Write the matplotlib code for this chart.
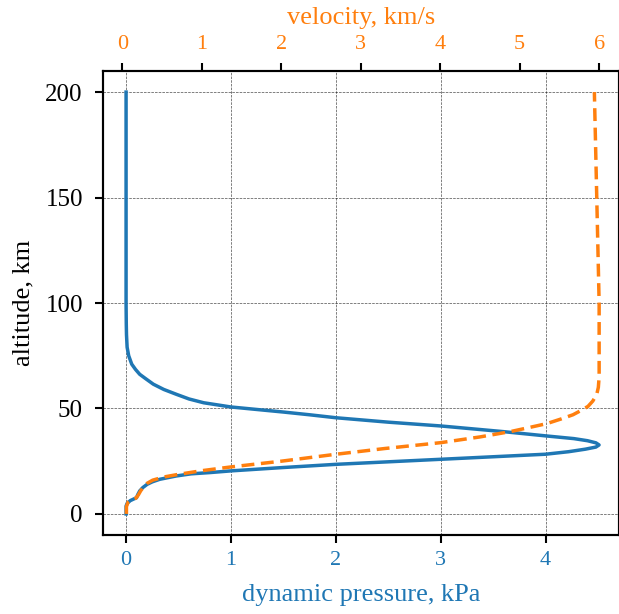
import matplotlib
matplotlib.use("Agg")
import matplotlib.pyplot as plt

plt.rcParams['font.family'] = ['Liberation Serif', 'DejaVu Serif']

# dynamic pressure (kPa) vs altitude (km)
alt_q = [0, 3.7, 5, 6.3, 7.7, 9, 10.9, 12.5, 14, 15.2, 16.4, 17.2, 18, 19,
         19.6, 20.4, 22, 23.5, 25.9, 28.3, 29.5, 30.7, 31.7, 32.7, 33.7, 34.7,
         35.7, 37, 39, 41.7, 43.5, 45.6, 47, 48.3, 49.5, 50.7, 52.7, 54.5,
         56.7, 59, 61.5, 64, 66.2, 68.5, 71, 75, 79, 85, 90, 100, 150, 200]
q_kpa = [0.0, 0.0, 0.01, 0.04, 0.1, 0.11, 0.13, 0.16, 0.2, 0.25, 0.32, 0.4,
         0.48, 0.62, 0.8, 1.0, 1.5, 2.0, 3.0, 4.0, 4.22, 4.38, 4.48, 4.51,
         4.48, 4.4, 4.27, 4.0, 3.6, 3.0, 2.5, 2.0, 1.75, 1.5, 1.25, 1.0, 0.74,
         0.6, 0.48, 0.36, 0.26, 0.19, 0.13, 0.09, 0.054, 0.025, 0.01, 0.004,
         0.002, 0.0, 0.0, 0.0]

# velocity (km/s) vs altitude (km)
alt_v = [0, 3.5, 5.5, 6.8, 7.5, 9, 11, 12.5, 14.5, 16, 17.5, 18.8, 20.5,
         22.3, 25, 28.3, 31, 33.8, 36.5, 39, 40.8, 42.8, 45, 47, 49, 51,
         53.5, 56.7, 60, 65, 80, 100, 150, 200]
v_kms = [0.05, 0.05, 0.07, 0.12, 0.17, 0.2, 0.23, 0.26, 0.31, 0.38, 0.52,
         0.71, 1.0, 1.37, 2.0, 2.69, 3.3, 4.01, 4.5, 4.88, 5.1, 5.34, 5.52,
         5.67, 5.77, 5.86, 5.92, 5.97, 5.99, 6.0, 6.0, 6.0, 5.97, 5.94]

blue = '#1f77b4'
orange = '#ff7f0e'

fig = plt.figure(figsize=(6.19, 6.14), dpi=100)
ax = fig.add_axes([103 / 619, 1 - 535 / 614, 516 / 619, 464 / 614])
ax.plot(q_kpa, alt_q, color=blue, lw=2.5)
ax.set_xlim(-0.22, 4.70)
ax.set_ylim(-10, 210)
ax.set_xticks([0, 1, 2, 3, 4])
ax.set_yticks([0, 50, 100, 150, 200])
ax.set_xlabel('dynamic pressure, kPa', color=blue, fontsize=19, labelpad=10)
ax.set_ylabel('altitude, km', fontsize=19, labelpad=8)
ax.tick_params(axis='x', labelcolor=blue, labelsize=16, length=6, width=1.5, pad=5.5)
ax.tick_params(axis='y', labelsize=18, length=6, width=1.5, pad=8.5)
ax.grid(True, color='k', ls='--', lw=0.5, alpha=0.7)
for s in ax.spines.values():
    s.set_linewidth(1.5)

ax2 = ax.twiny()
ax2.plot(v_kms, alt_v, color=orange, lw=2.5, ls='--', dashes=(3.7, 1.9))
ax2.set_xlim(-0.245, 6.25)
ax2.set_xticks([0, 1, 2, 3, 4, 5, 6])
ax2.set_xlabel('velocity, km/s', color=orange, fontsize=19, labelpad=8.5)
ax2.tick_params(axis='x', labelcolor=orange, labelsize=16, length=6, width=1.5, pad=6)
for s in ax2.spines.values():
    s.set_linewidth(1.5)

fig.savefig('out.png', dpi=100)
